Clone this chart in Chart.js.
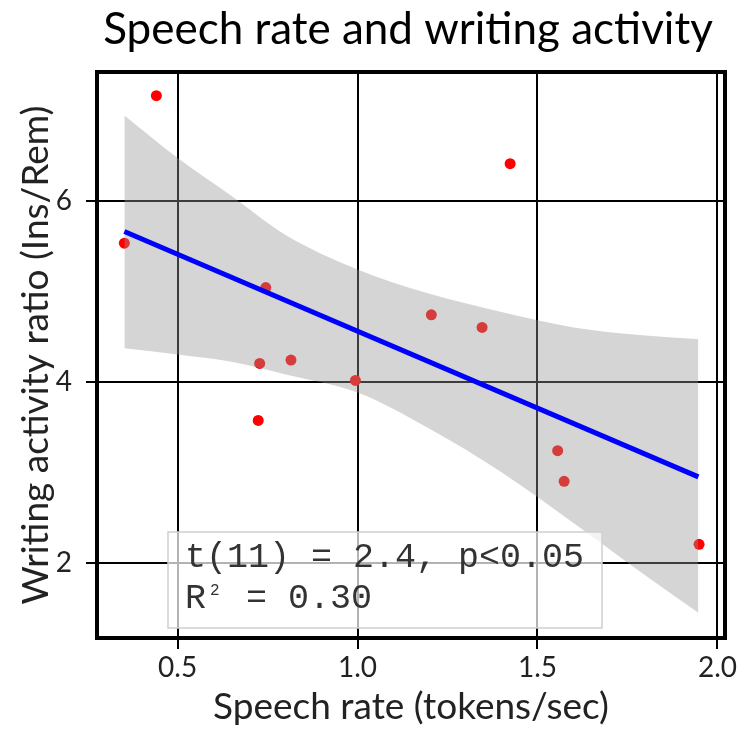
<!DOCTYPE html>
<html>
<head>
<meta charset="utf-8">
<script src="https://cdn.jsdelivr.net/npm/chart.js@4.4.0/dist/chart.umd.min.js"></script>
<style>
  html, body { margin: 0; padding: 0; background: #fff; }
  #wrap { width: 742px; height: 729px; }
</style>
</head>
<body>
<div id="wrap"><canvas id="chart" width="742" height="729"></canvas></div>
<script>
// observed points
const speechRate   = [0.352, 0.441, 0.745, 0.728, 0.815, 0.724, 0.994, 1.205, 1.346, 1.424, 1.556, 1.574, 1.949];
const writingRatio = [5.53, 7.158, 5.04, 4.202, 4.239, 3.573, 4.014, 4.739, 4.599, 6.408, 3.239, 2.90, 2.205];

// fitted line and its confidence band
const fitX = [0.352, 1.947];
const fitY = [5.658, 2.949];
const bandX     = [0.352, 0.5, 0.65, 0.8, 1.0, 1.2, 1.4, 1.6, 1.8, 1.947];
const bandUpper = [6.94, 6.47, 6.05, 5.62, 5.24, 4.97, 4.77, 4.60, 4.51, 4.47];
const bandLower = [4.37, 4.30, 4.22, 4.08, 3.88, 3.48, 3.00, 2.44, 1.86, 1.45];

const xTicks = [0.5, 1.0, 1.5, 2.0];
const yTicks = [2, 4, 6];

const titleText = 'Speech rate and writing activity';
const xTitle = 'Speech rate (tokens/sec)';
const yTitle = 'Writing activity ratio (Ins/Rem)';
const statLine1 = 't(11) = 2.4, p<0.05';
const statLine2 = ['R', '2', ' = 0.30'];

const sans = 'Lato';
const mono = '"Liberation Mono", monospace';

const toPoints = (xs, ys) => xs.map((x, i) => ({ x: x, y: ys[i] }));

const framePlugin = {
    id: 'frame',
    afterDatasetsDraw(chart) {
        const { ctx, chartArea: a } = chart;
        ctx.save();

        // stats box
        const bx = a.left + 71, by = a.top + 460;
        ctx.fillStyle = 'rgba(255,255,255,0.7)';
        ctx.fillRect(bx, by, 434, 96);
        ctx.strokeStyle = '#cfcfcf';
        ctx.lineWidth = 1.5;
        ctx.strokeRect(bx, by, 434, 96);

        ctx.fillStyle = '#333';
        ctx.textBaseline = 'alphabetic';
        ctx.textAlign = 'left';
        ctx.font = '35px ' + mono;
        ctx.fillText(statLine1, bx + 17, by + 35);
        ctx.fillText(statLine2[0], bx + 17, by + 76);
        ctx.font = '16px ' + mono;
        ctx.fillText(statLine2[1], bx + 42, by + 63);
        ctx.font = '35px ' + mono;
        ctx.fillText(statLine2[2], bx + 57, by + 76);

        // frame
        ctx.strokeStyle = '#000';
        ctx.lineWidth = 4;
        ctx.strokeRect(a.left, a.top, a.right - a.left, a.bottom - a.top);

        // title
        ctx.fillStyle = '#000';
        ctx.font = '44px ' + sans;
        ctx.textAlign = 'center';
        ctx.fillText(titleText, 408, 44);
        ctx.restore();
    }
};

new Chart(document.getElementById('chart'), {
    type: 'scatter',
    data: {
        datasets: [
            {
                label: 'band upper',
                type: 'line',
                data: toPoints(bandX, bandUpper),
                borderWidth: 0,
                pointRadius: 0,
                fill: '+1',
                backgroundColor: 'rgba(150,150,150,0.4)',
                cubicInterpolationMode: 'monotone',
                order: 2
            },
            {
                label: 'band lower',
                type: 'line',
                data: toPoints(bandX, bandLower),
                borderWidth: 0,
                pointRadius: 0,
                fill: false,
                cubicInterpolationMode: 'monotone',
                order: 2
            },
            {
                label: 'fit',
                type: 'line',
                data: toPoints(fitX, fitY),
                borderColor: '#0000ff',
                borderWidth: 5,
                pointRadius: 0,
                fill: false,
                order: 1
            },
            {
                label: 'points',
                data: toPoints(speechRate, writingRatio),
                backgroundColor: '#ff0000',
                borderWidth: 0,
                pointRadius: 5.5,
                order: 3
            }
        ]
    },
    options: {
        responsive: false,
        devicePixelRatio: 1,
        animation: false,
        layout: { padding: { top: 72, right: 17, left: 0, bottom: 0 } },
        plugins: {
            legend: { display: false },
            tooltip: { enabled: false },
            title: { display: false }
        },
        scales: {
            x: {
                type: 'linear',
                min: 0.276,
                max: 2.021,
                afterBuildTicks: s => { s.ticks = xTicks.map(v => ({ value: v })); },
                afterFit: s => { s.height = 91; },
                grid: { color: '#000', lineWidth: 2, tickLength: 11, tickColor: '#000' },
                border: { display: false },
                ticks: {
                    color: '#222',
                    padding: 2,
                    font: { family: sans, size: 28 },
                    callback: v => v.toFixed(1)
                },
                title: {
                    display: true,
                    text: xTitle,
                    color: '#222',
                    font: { family: sans, size: 37 },
                    padding: { top: 0, bottom: 0 }
                }
            },
            y: {
                type: 'linear',
                min: 1.17,
                max: 7.42,
                afterBuildTicks: s => { s.ticks = yTicks.map(v => ({ value: v })); },
                afterFit: s => { s.width = 97; },
                grid: { color: '#000', lineWidth: 2, tickLength: 11, tickColor: '#000' },
                border: { display: false },
                ticks: {
                    color: '#222',
                    padding: 14,
                    font: { family: sans, size: 28 },
                    callback: v => String(v)
                },
                title: {
                    display: true,
                    text: yTitle,
                    color: '#222',
                    font: { family: sans, size: 37 },
                    padding: { top: 14, bottom: 0 }
                }
            }
        }
    },
    plugins: [framePlugin]
});
</script>
</body>
</html>
